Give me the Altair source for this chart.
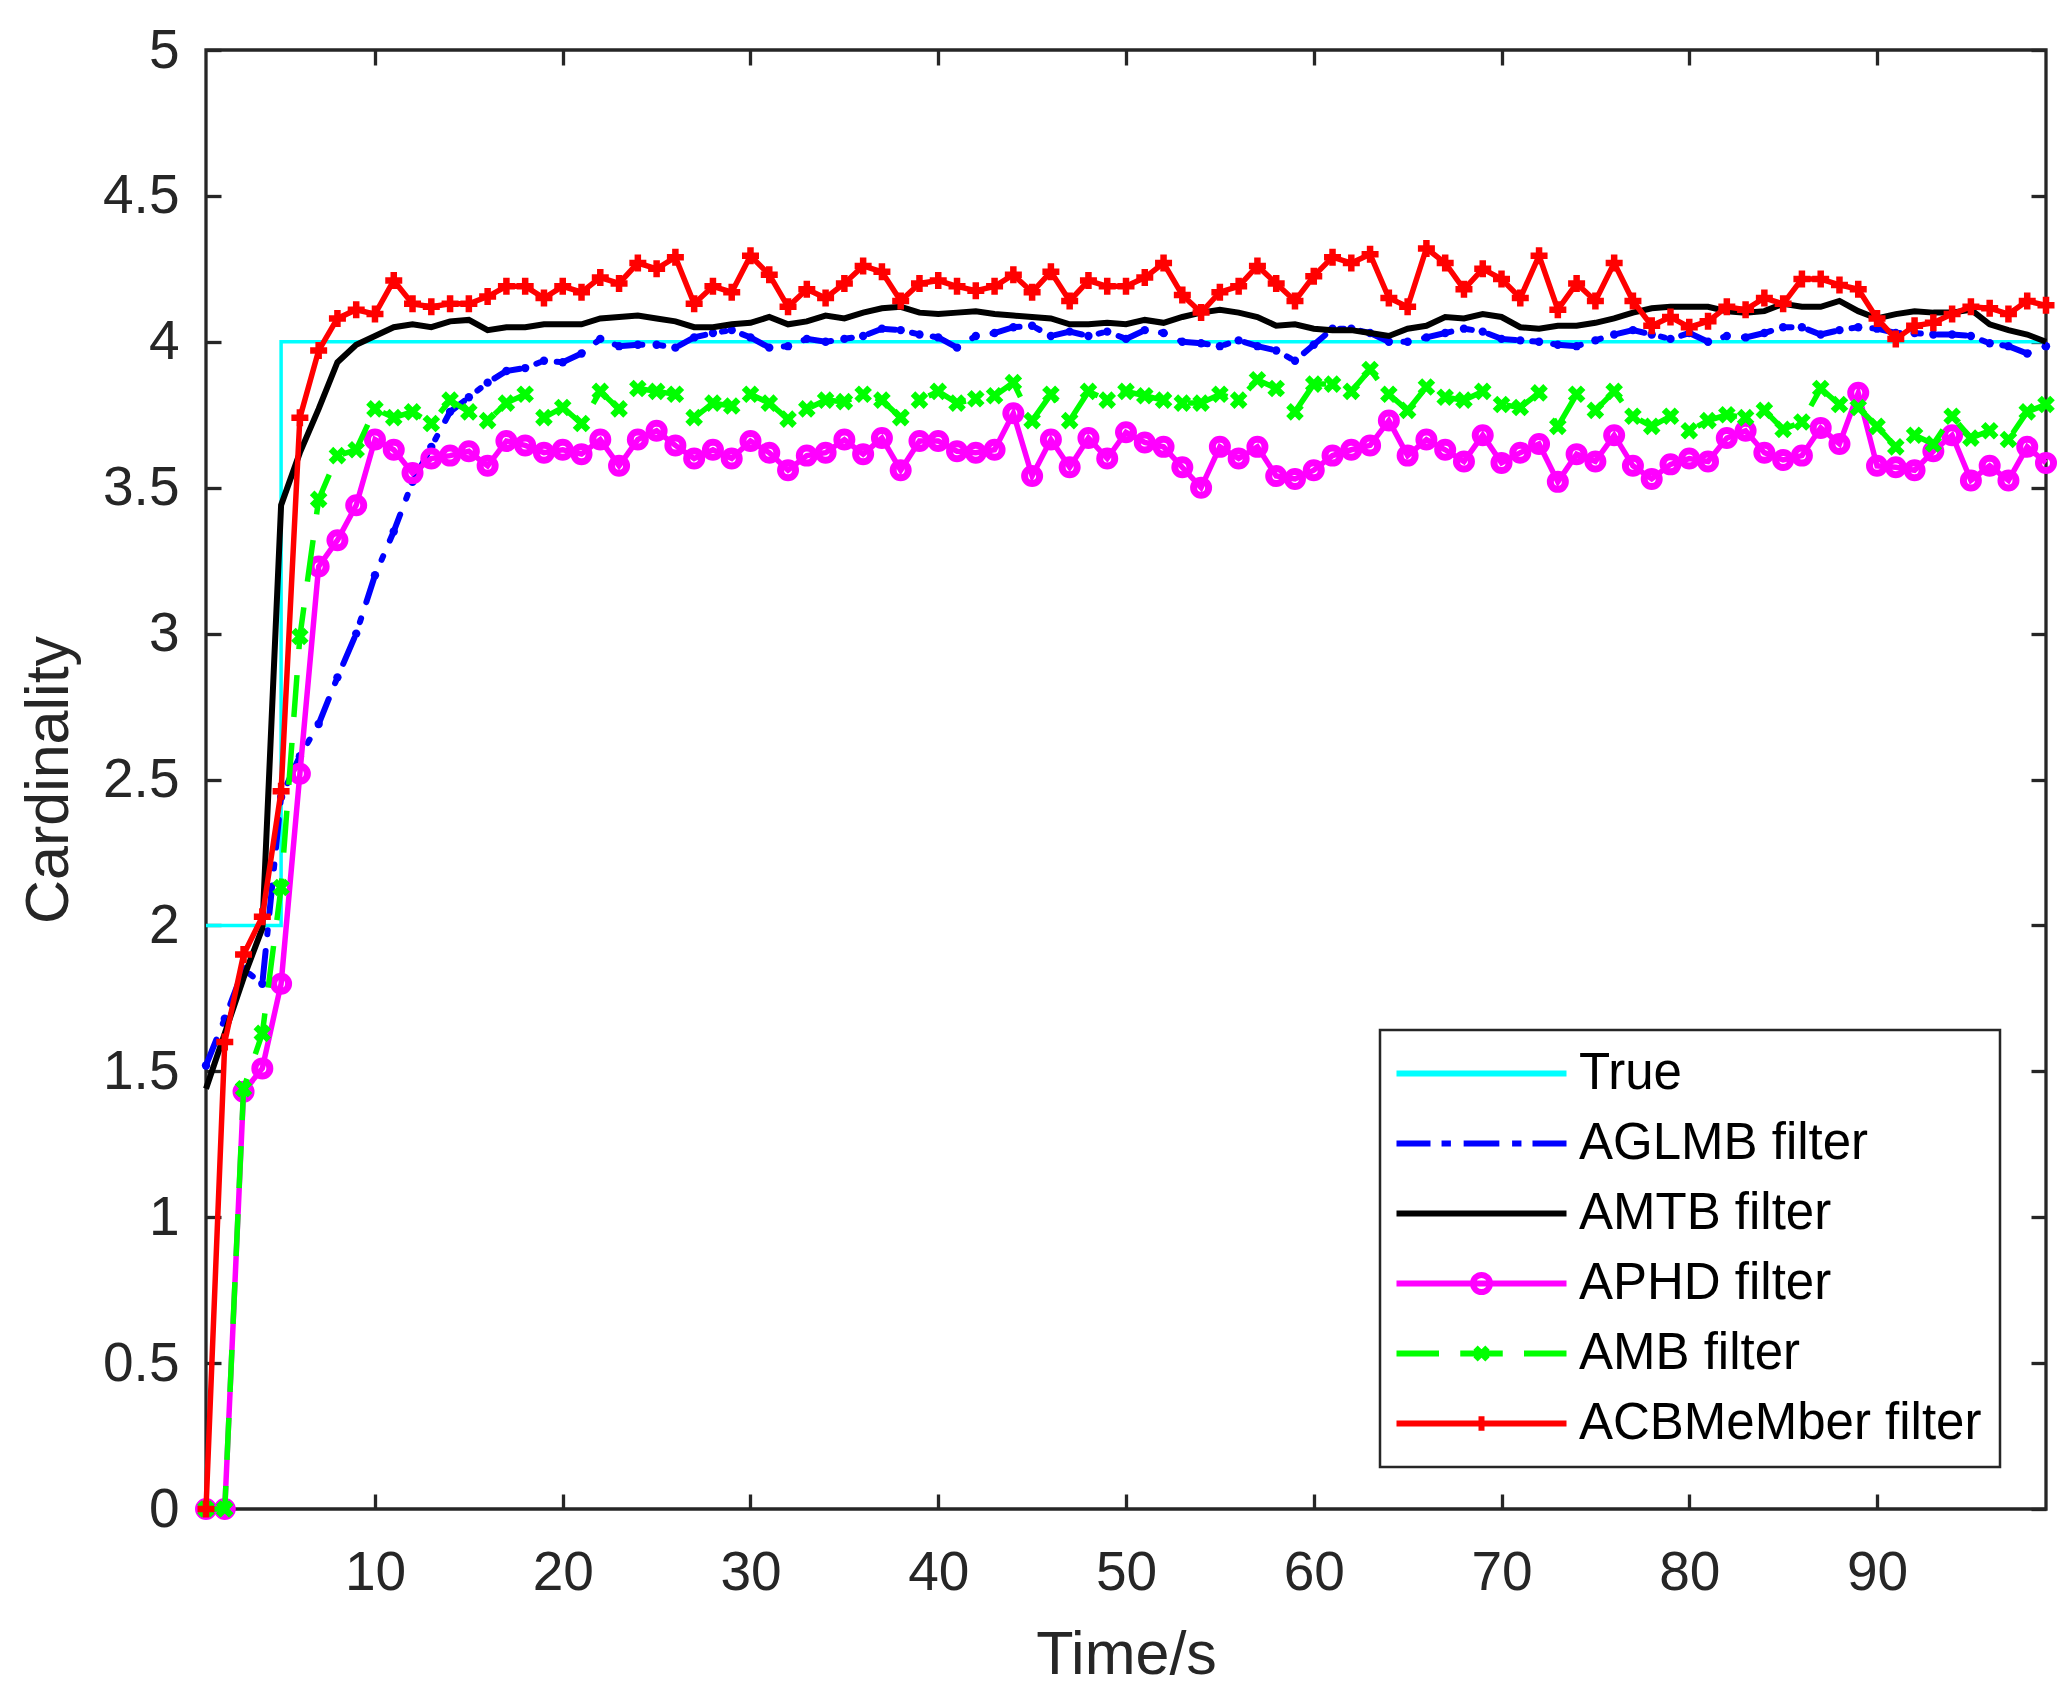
import altair as alt
import pandas as pd

# time steps 1..99
T = list(range(1, 100))

# true cardinality
TRUE = [2, 2, 2, 2, 4, 4, 4, 4, 4, 4,
        4, 4, 4, 4, 4, 4, 4, 4, 4, 4,
        4, 4, 4, 4, 4, 4, 4, 4, 4, 4,
        4, 4, 4, 4, 4, 4, 4, 4, 4, 4,
        4, 4, 4, 4, 4, 4, 4, 4, 4, 4,
        4, 4, 4, 4, 4, 4, 4, 4, 4, 4,
        4, 4, 4, 4, 4, 4, 4, 4, 4, 4,
        4, 4, 4, 4, 4, 4, 4, 4, 4, 4,
        4, 4, 4, 4, 4, 4, 4, 4, 4, 4,
        4, 4, 4, 4, 4, 4, 4, 4, 4]

AGLMB = [1.52, 1.68, 1.85, 1.80, 2.44, 2.58, 2.69, 2.85, 3.00, 3.20,
         3.35, 3.52, 3.64, 3.76, 3.81, 3.86, 3.90, 3.91, 3.935, 3.93,
         3.96, 4.01, 3.985, 3.99, 3.99, 3.98, 4.015, 4.03, 4.04, 4.015,
         3.98, 3.985, 4.01, 4.00, 4.01, 4.02, 4.045, 4.04, 4.025, 4.015,
         3.98, 4.02, 4.03, 4.05, 4.055, 4.02, 4.035, 4.02, 4.035, 4.01,
         4.04, 4.03, 4.00, 3.995, 3.985, 4.005, 3.985, 3.97, 3.935, 3.99,
         4.045, 4.045, 4.03, 4.00, 4.00, 4.015, 4.03, 4.045, 4.035, 4.01,
         4.005, 4.00, 3.99, 3.985, 4.005, 4.025, 4.04, 4.025, 4.01, 4.03,
         4.00, 4.02, 4.015, 4.03, 4.05, 4.05, 4.025, 4.04, 4.05, 4.045,
         4.03, 4.03, 4.025, 4.025, 4.02, 3.995, 3.985, 3.96, 3.985]

AMTB = [1.44, 1.63, 1.82, 1.99, 3.44, 3.62, 3.77, 3.93, 3.99, 4.02,
        4.05, 4.06, 4.05, 4.07, 4.075, 4.04, 4.05, 4.05, 4.06, 4.06,
        4.06, 4.08, 4.085, 4.09, 4.08, 4.07, 4.05, 4.05, 4.06, 4.065,
        4.085, 4.06, 4.07, 4.09, 4.08, 4.10, 4.115, 4.12, 4.10, 4.095,
        4.10, 4.105, 4.095, 4.09, 4.085, 4.08, 4.06, 4.06, 4.065, 4.06,
        4.075, 4.065, 4.085, 4.10, 4.11, 4.10, 4.085, 4.055, 4.06, 4.045,
        4.04, 4.04, 4.03, 4.02, 4.045, 4.055, 4.085, 4.08, 4.095, 4.085,
        4.05, 4.045, 4.055, 4.055, 4.065, 4.08, 4.10, 4.115, 4.12, 4.12,
        4.12, 4.105, 4.10, 4.105, 4.13, 4.12, 4.12, 4.14, 4.105, 4.08,
        4.095, 4.105, 4.10, 4.10, 4.11, 4.06, 4.04, 4.025, 4.00]

APHD = [0.0, 0.0, 1.43, 1.51, 1.80, 2.52, 3.23, 3.32, 3.44, 3.665,
        3.63, 3.55, 3.60, 3.61, 3.625, 3.575, 3.66, 3.645, 3.62, 3.63,
        3.615, 3.665, 3.575, 3.665, 3.695, 3.645, 3.60, 3.63, 3.60, 3.66,
        3.62, 3.56, 3.61, 3.62, 3.665, 3.615, 3.67, 3.56, 3.66, 3.66,
        3.625, 3.62, 3.63, 3.755, 3.54, 3.665, 3.57, 3.67, 3.60, 3.69,
        3.655, 3.64, 3.57, 3.50, 3.64, 3.60, 3.64, 3.54, 3.53, 3.56,
        3.61, 3.63, 3.645, 3.73, 3.61, 3.665, 3.63, 3.59, 3.68, 3.585,
        3.62, 3.65, 3.52, 3.615, 3.59, 3.68, 3.575, 3.53, 3.58, 3.60,
        3.59, 3.67, 3.695, 3.62, 3.595, 3.61, 3.705, 3.65, 3.825, 3.575,
        3.57, 3.56, 3.625, 3.68, 3.525, 3.575, 3.525, 3.64, 3.585]

AMB = [0.0, 0.0, 1.44, 1.63, 2.13, 2.99, 3.46, 3.61, 3.63, 3.77,
       3.74, 3.76, 3.72, 3.80, 3.76, 3.73, 3.79, 3.82, 3.74, 3.775,
       3.72, 3.83, 3.77, 3.84, 3.83, 3.82, 3.74, 3.79, 3.78, 3.82,
       3.79, 3.735, 3.77, 3.80, 3.795, 3.82, 3.80, 3.74, 3.80, 3.83,
       3.79, 3.805, 3.815, 3.86, 3.73, 3.82, 3.73, 3.83, 3.80, 3.83,
       3.815, 3.80, 3.79, 3.79, 3.82, 3.80, 3.87, 3.84, 3.76, 3.855,
       3.855, 3.83, 3.905, 3.82, 3.765, 3.845, 3.81, 3.80, 3.83, 3.785,
       3.775, 3.825, 3.71, 3.82, 3.765, 3.83, 3.745, 3.71, 3.745, 3.695,
       3.73, 3.75, 3.74, 3.765, 3.70, 3.725, 3.84, 3.785, 3.775, 3.71,
       3.64, 3.68, 3.65, 3.745, 3.67, 3.695, 3.665, 3.76, 3.785]

ACBMEMBER = [0.0, 1.60, 1.90, 2.03, 2.46, 3.74, 3.97, 4.08, 4.11, 4.095,
             4.21, 4.13, 4.12, 4.13, 4.13, 4.155, 4.19, 4.19, 4.15, 4.19,
             4.17, 4.22, 4.20, 4.27, 4.25, 4.29, 4.13, 4.19, 4.17, 4.295,
             4.23, 4.12, 4.18, 4.15, 4.20, 4.26, 4.24, 4.14, 4.20, 4.21,
             4.19, 4.175, 4.19, 4.23, 4.17, 4.24, 4.14, 4.21, 4.19, 4.19,
             4.22, 4.27, 4.16, 4.10, 4.17, 4.19, 4.26, 4.20, 4.14, 4.225,
             4.29, 4.27, 4.30, 4.15, 4.12, 4.32, 4.27, 4.18, 4.25, 4.215,
             4.15, 4.295, 4.11, 4.20, 4.14, 4.27, 4.14, 4.055, 4.085, 4.05,
             4.07, 4.12, 4.11, 4.15, 4.13, 4.215, 4.215, 4.195, 4.18, 4.08,
             4.01, 4.055, 4.065, 4.095, 4.12, 4.115, 4.095, 4.14, 4.125]

SERIES = ["True", "AGLMB filter", "AMTB filter", "APHD filter", "AMB filter", "ACBMeMber filter"]
COLORS = ["#00ffff", "#0000ff", "#000000", "#ff00ff", "#00ff00", "#ff0000"]

X_TICKS = [10, 20, 30, 40, 50, 60, 70, 80, 90]
Y_TICKS = [0, 0.5, 1, 1.5, 2, 2.5, 3, 3.5, 4, 4.5, 5]

# legend symbols: line sample plus marker, x runs -5..5
LEGEND_SHAPES = [
    "M-5,0H5",
    "M-5,0H-3M-2.35,0H-1.8M-1.05,0H1.05M1.8,0H2.35M3,0H5",
    "M-5,0H5",
    "M-5,0H5M0.5,0A0.5,0.5 0 1 1 -0.5,0A0.5,0.5 0 1 1 0.5,0",
    "M-5,0H-2.5M-1.25,0H1.25M2.5,0H5M-0.35,-0.35L0.35,0.35M-0.35,0.35L0.35,-0.35",
    "M-5,0H5M0,-0.42V0.42",
]

FONT = "Liberation Sans"
AX = "#262626"
TICK = 15

xs = alt.Scale(domain=[1, 99], nice=False, zero=False)
ys = alt.Scale(domain=[0, 5], nice=False, zero=False)

tick_style = dict(offset=-TICK, tickSize=TICK, tickWidth=3.3, tickColor=AX,
                  domain=False, grid=False)

x_bottom = alt.Axis(values=X_TICKS, orient="bottom", labelFont=FONT, labelFontSize=55,
                    labelColor=AX, labelPadding=37, labelFlush=False, labelOverlap=False,
                    title="Time/s", titleFont=FONT, titleFontSize=61, titleFontWeight="normal",
                    titleColor=AX, titlePadding=25, **tick_style)
y_left = alt.Axis(values=Y_TICKS, orient="left", format="~g", labelFont=FONT, labelFontSize=55,
                  labelColor=AX, labelPadding=27, labelFlush=False, labelOverlap=False,
                  title="Cardinality", titleFont=FONT, titleFontSize=61, titleFontWeight="normal",
                  titleColor=AX, titlePadding=22, **tick_style)
x_top = alt.Axis(values=X_TICKS, orient="top", labels=False, title=None, **tick_style)
y_right = alt.Axis(values=Y_TICKS, orient="right", labels=False, title=None, **tick_style)


def frame(values):
    return alt.Chart(pd.DataFrame({"t": T, "value": values}))


def enc(xaxis=None, yaxis=None):
    return dict(x=alt.X("t:Q", scale=xs, axis=xaxis), y=alt.Y("value:Q", scale=ys, axis=yaxis))


true_line = frame(TRUE).mark_line(color=COLORS[0], strokeWidth=3.5, interpolate="step-after").encode(
    **enc(x_bottom, y_left))

aglmb_line = frame(AGLMB).mark_line(color=COLORS[1], strokeWidth=6, strokeCap="round",
                                    strokeDash=[28, 17, 4, 17]).encode(**enc(x_top, y_right))
aglmb_pts = frame(AGLMB).mark_circle(color=COLORS[1], size=70, opacity=1).encode(**enc())

amtb_line = frame(AMTB).mark_line(color=COLORS[2], strokeWidth=6).encode(**enc())

aphd_line = frame(APHD).mark_line(color=COLORS[3], strokeWidth=5.5).encode(**enc())
aphd_pts = frame(APHD).mark_point(color=COLORS[3], shape="circle", size=225, filled=False,
                                  strokeWidth=7, opacity=1).encode(**enc())

amb_line = frame(AMB).mark_line(color=COLORS[4], strokeWidth=5.5, strokeDash=[42, 26]).encode(**enc())
amb_pts = frame(AMB).mark_point(color=COLORS[4], shape="M-1,-1L1,1M-1,1L1,-1", size=169, filled=False,
                                strokeWidth=6.5, opacity=1).encode(**enc())

acb_line = frame(ACBMEMBER).mark_line(color=COLORS[5], strokeWidth=5.5).encode(**enc())
acb_pts = frame(ACBMEMBER).mark_point(color=COLORS[5], shape="M-1,0H1M0,-1V1", size=289, filled=False,
                                      strokeWidth=6.5, opacity=1).encode(**enc())

legend = alt.Legend(title=None, orient="none", legendX=1174, legendY=980, padding=18,
                    strokeColor=AX, fillColor="white", symbolSize=1156, symbolStrokeWidth=6,
                    symbolOffset=58, labelFont=FONT, labelFontSize=51, labelColor="black",
                    labelOffset=72, rowPadding=18, labelLimit=800)

legend_layer = alt.Chart(pd.DataFrame({"series": SERIES})).transform_filter("false").mark_point(
    filled=False, opacity=1, strokeWidth=6).encode(
    color=alt.Color("series:N", scale=alt.Scale(domain=SERIES, range=COLORS), legend=legend),
    shape=alt.Shape("series:N", scale=alt.Scale(domain=SERIES, range=LEGEND_SHAPES), legend=legend),
)

chart = alt.layer(
    true_line, aglmb_line, aglmb_pts, amtb_line, aphd_line, aphd_pts,
    amb_line, amb_pts, acb_line, acb_pts, legend_layer
).resolve_axis(
    x="independent", y="independent"
).properties(
    width=1840, height=1459,
    autosize=alt.AutoSizeParams(type="none"),
    padding={"left": 198, "top": 42, "right": 16, "bottom": 185},
    background="white",
).configure_view(
    stroke=AX, strokeWidth=3.3
).configure_legend(
    strokeWidth=2.5
)

chart.save("out.html", embed_options={"renderer": "svg", "actions": False})
